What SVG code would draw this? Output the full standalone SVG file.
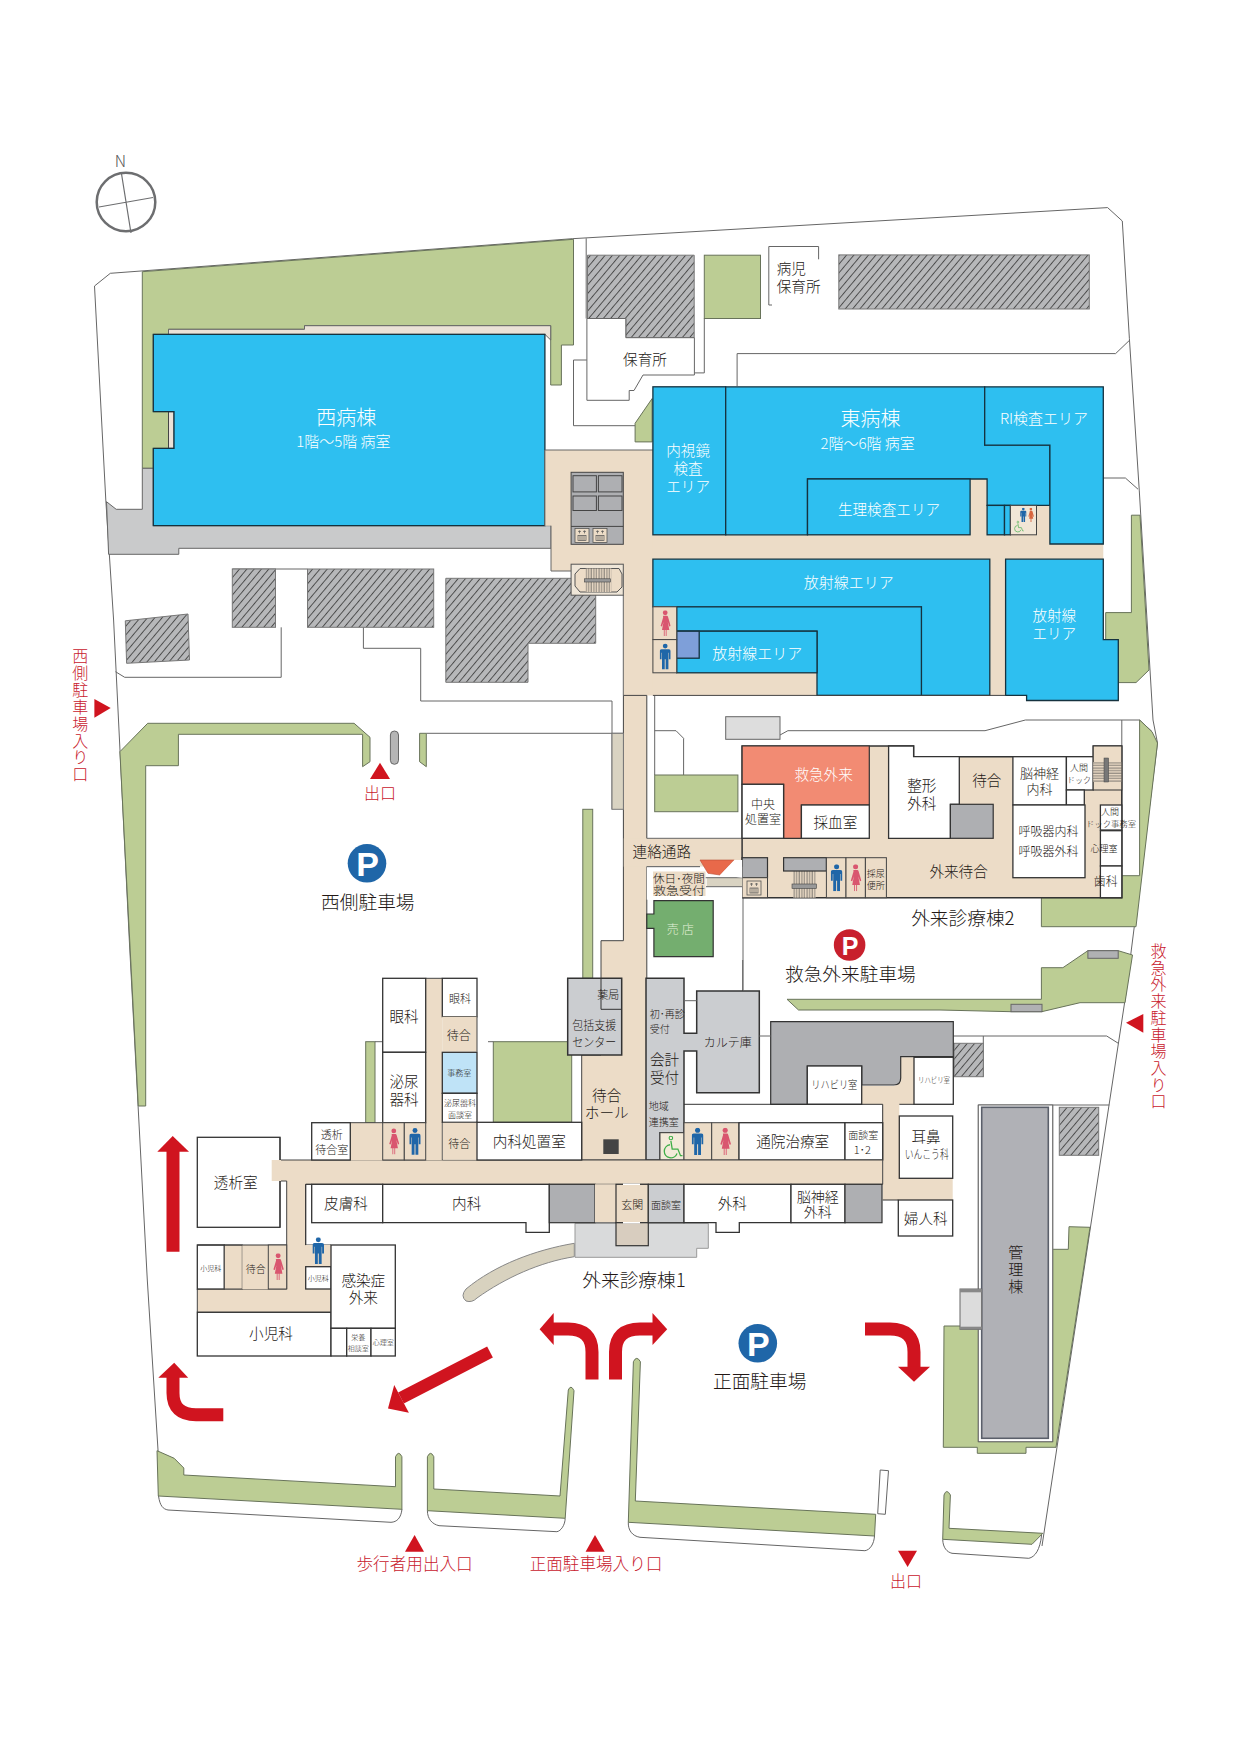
<svg xmlns="http://www.w3.org/2000/svg" width="1240" height="1754" viewBox="0 0 1240 1754">
<style>
text{font-family:"Noto Sans CJK JP","Noto Sans",sans-serif;font-weight:300;fill:#231815;text-anchor:middle;dominant-baseline:central}
.l{text-anchor:start}
.wt{fill:#fff}
.rd{fill:#c8202d}
.v{writing-mode:vertical-rl;text-anchor:start}
.f7{font-size:7px}.f8{font-size:8px}.f9{font-size:9px}.f10{font-size:10px}.f11{font-size:11px}.f12{font-size:12px}.f13{font-size:13px}.f14{font-size:14px}.f145{font-size:14.6px}.f15{font-size:15px}.f16{font-size:16px}.f165{font-size:16.6px}.f187{font-size:18.7px}.f20{font-size:20px}
.ln{fill:none;stroke:#666;stroke-width:1}
.wl{fill:#fff;stroke:#666;stroke-width:1}
.gr{fill:#bccd94;stroke:#68735a;stroke-width:1}
.ha{fill:url(#hatch);stroke:#777;stroke-width:1}
.tan{fill:#ecdcc7;stroke:none}
.tb{fill:#ecdcc7;stroke:#444;stroke-width:1}
.bl{fill:#2ebff0;stroke:#15323f;stroke-width:1.3}
.wh{fill:#fff;stroke:#333;stroke-width:1.3}
.gy{fill:#aeafb2;stroke:#333;stroke-width:1.2}
.lg{fill:#cbcdd0;stroke:#333;stroke-width:1.5}
.ar{fill:#d0141f}
.as{fill:none;stroke:#d0141f;stroke-width:13}
.m{fill:#1f66a8}
.w{fill:#d9566f}
</style>
<defs>
<pattern id="hatch" patternUnits="userSpaceOnUse" width="5.6" height="5.6" patternTransform="rotate(40)"><rect width="5.6" height="5.6" fill="#b7b8ba"/><line x1="0.5" y1="0" x2="0.5" y2="5.6" stroke="#333" stroke-width="0.8"/></pattern>
<pattern id="rung" patternUnits="userSpaceOnUse" width="2.6" height="5"><rect width="2.6" height="5" fill="#ecdcc7"/><line x1="1" y1="0" x2="1" y2="5" stroke="#444" stroke-width="0.7"/></pattern>
<pattern id="rungh" patternUnits="userSpaceOnUse" width="5" height="2.6"><rect width="5" height="2.6" fill="#ecdcc7"/><line x1="0" y1="1" x2="5" y2="1" stroke="#444" stroke-width="0.7"/></pattern>
<symbol id="man" viewBox="0 0 12 28"><circle cx="6" cy="2.6" r="2.6"/><path d="M2 6h8q2 0 2 2v9h-2v-7h-.5v18h-3V17h-1v11h-3V10H2v7H0V8q0-2 2-2z"/></symbol>
<symbol id="woman" viewBox="0 0 12 28"><circle cx="6" cy="2.6" r="2.6"/><path d="M4.2 6h3.6q1 0 1.4 1.5L12 17l-1.5.5-1.7-5 1.7 9H7.5V28H6.6v-6.5H5.4V28h-.9v-6.5H2.500l1.700-9-1.700 5L1 17 3.800 7.500Q3.200 6 4.200 6z"/></symbol>
<symbol id="chair" viewBox="0 0 24 26"><circle cx="10.500" cy="2.300" r="2" fill="none" stroke="#3fae49" stroke-width="1.300"/><path d="M10.500 5.500 12 15H18.500L21.500 22.500H24M9.500 10A7.500 7.500 0 1 0 17.500 20" fill="none" stroke="#3fae49" stroke-width="1.500"/></symbol>
<symbol id="elev" viewBox="0 0 16 16"><rect x="1" y="1" width="14" height="14" fill="#ecdcc7" stroke="#555" stroke-width="0.800"/><path d="M4 4h3M9 4h3M5.500 3v3M10.500 3v3" stroke="#555" stroke-width="0.700" fill="none"/><rect x="4" y="8" width="8" height="5" fill="none" stroke="#555" stroke-width="0.700"/><path d="M6 8v5M8 8v5M10 8v5" stroke="#555" stroke-width="0.700"/></symbol>
</defs>

<g id="site">
<path class="ln" d="M94.500,286 110.300,273.300 572.400,238.700 1107.600,207.600 1122.300,221 1129.400,338.700 1139.300,490.900 1153,720 1157.500,743 1125,1000 1042,1546"/>
<path class="ln" d="M94.500,286 105.800,500 113.600,620 129.300,940 147.300,1280 158,1450 159.500,1496"/>
<path class="ln" d="M586.200,238.300V318.500M573.500,360V425.700H635.100M586.900,360H573.500M737.100,386V353.600H1115.600L1129.400,340.400M1102.500,478H1125.400L1138,489.200"/>
<path class="ln" d="M704.300,318.500V372.900H694.400"/>
<path class="ln" d="M232.400,569H307.300M115.500,671.700 124.700,677.300H281.200V627.300M363.400,627.300V648.300H420.700V701H612V809.300M426.300,733.300H623.400"/>
<path class="ln" d="M654.700,695.400V775M654.700,730.700H676L683.600,738.300V775M780,735 787.900,730.700H985L1025.400,720H1139.600L1152,731.700"/>
<path class="ln" d="M743,897.700V990M742.700,960V991"/>
<path class="ln" d="M953.300,1036H1106.700L1118.300,1043.300M983.300,1036V1076.700M978.300,1105V1441.700H1052.700V1105ZM1052.700,1105H1109.300"/>
<path class="ln" d="M1121.800,720V875.700"/>
<path class="ln" d="M158.500,1496C160,1506 163,1509 168,1510L391,1522.300C397,1522 401,1518 402,1509M427.400,1510.700C427.500,1519 432,1524 439,1525.700L556.900,1531.700C561,1531 565,1525 565.200,1518.300M628.300,1522.300C628,1530 632,1536 640,1537.300L864.900,1550.700C870,1550 874,1544 874.500,1536M942.700,1539.300C943,1548 947,1552 952,1553.300L1028.800,1558.300C1035,1557 1040,1550 1041.600,1535"/>
<path class="wl" d="M880.200,1470 888.500,1470.700 885.300,1514.300 877.700,1513.700Z"/>
</g>

<g id="green">
<path class="gr" d="M142.300,271.700 573.500,239.300V345H561.400V385H550.700V325.700H304.500V329.300H168.500V334.300H153.300V411.700H168.500V448.300H153.300V468.300H142.300Z"/>
<rect class="gr" x="704.300" y="255.200" width="56.200" height="63.300"/>
<path class="gr" d="M652.100,398.600 635.100,423.300V441.900H652.100Z"/>
<path class="gr" d="M1131.400,515.200H1140L1149,670 1136,682.600H1117.500V639.600H1105.700V612.600H1131.400Z"/>
<rect class="gr" x="654.700" y="775" width="83.200" height="36.700"/>
<path class="gr" d="M1139.600,720 1152,731.700 1157.500,743 1136,926.700H1041.400V897.700H1121.800V875.700H1139.600Z"/>
<path class="gr" d="M787,999.300H1041.400V967.700H1062.900L1087.900,950.700H1118.200L1132.500,955 1125,1002.700H1080L1041.700,1011.700H1011L940,1010H798.500Z"/>
<path class="gr" d="M147.700,723.300H354.100L370,737.300V761.700L362.600,766.700V734.300H178.400V765.700H145.700V1106H138.300L119.900,751.700Z"/>
<path class="gr" d="M419.600,733.300H426.300V766.700L419.600,761.700Z"/>
<rect class="gr" x="582.800" y="809.300" width="9.900" height="169"/>
<rect class="gr" x="365.700" y="1041.700" width="9.300" height="81"/>
<path class="ln" d="M375,1041.700H382.700"/>
<rect class="gr" x="493.300" y="1041.700" width="78.400" height="80.600"/>
<path class="ln" d="M488,1041.700H493.300"/>
<path class="gr" d="M1053.300,1249.300H1068.300L1069,1226.700 1090,1227.300 1056,1447.300H1026V1453.300H977.300V1447.300H943.300L944,1326H978.300V1441.700H1052.700V1249.300Z"/>
<path class="gr" d="M157,1450.700 174.200,1458.300 183.800,1468V1475L395.500,1486.700V1456.700Q398.700,1450 401.900,1456.700V1509.300L158.300,1496Z"/>
<path class="gr" d="M427.400,1456.700Q430.600,1450 433.800,1456.700V1489L560,1496 568.300,1390Q570.900,1384 574,1390.700L565.200,1518.300 427.400,1510.700Z"/>
<path class="gr" d="M633.400,1361.700Q636.600,1355 640.400,1361.700L635.300,1501 875.700,1514.300 874.500,1536 628.300,1522.300Z"/>
<path class="gr" d="M944,1495Q946.500,1488 950.400,1495L949,1528.300 1042.800,1533.300 1032,1544.300 942.700,1539.300Z"/>
</g>

<g id="hatched">
<rect class="ha" x="232.300" y="569" width="43.200" height="58.300"/>
<rect class="ha" x="307.500" y="569" width="126.200" height="58.300"/>
<path class="ha" d="M445.800,578.300H595.700V643.300H528V682.300H445.800Z"/>
<path class="ha" d="M125.300,620.800 188,614 189.500,660 126.600,663.300Z"/>
<path class="ha" d="M587.500,255.200H694.200V337.700H625.800V318.500H587.500Z"/>
<rect class="ha" x="838.800" y="254.900" width="250.500" height="54.100"/>
<rect class="ha" x="954" y="1043.300" width="29.300" height="33.400"/>
<rect class="ha" x="1059.300" y="1107.300" width="39.400" height="48"/>
</g>

<g id="nursery">
<path class="wl" d="M586.900,318.500H625.800V337.700H694.400V375H643L634,390.500H629.200V400.300H586.900Z"/>
<text class="f145" x="645" y="358">保育所</text>
<path class="ln" d="M818.600,259.300V246.500H768.800V305H772"/>
<text class="f145 l" x="776.700" y="267">病児</text>
<text class="f145 l" x="776.700" y="285">保育所</text>
</g>

<g id="west-ward">
<path d="M168.500,329.300H304.500V325.700H550.700V340L544.900,334.300H168.500Z" fill="#ebe2d8" stroke="#666"/>
<rect x="168.500" y="411.700" width="5.500" height="36.600" fill="#ebe2d8" stroke="#444"/>
<path d="M142.300,468.300H153.300V525.700H551V548.300H178.800V554.300H108.600L106.500,501.700 116.200,509.300H142.300Z" fill="#c9cacb" stroke="#666"/>
<path class="bl" d="M153.300,334.300H544.900V525.700H153.300V448.300H174V411.700H153.300Z"/>
<text class="wt f20" x="346.200" y="416.700">西病棟</text>
<text class="wt f15" x="343.400" y="440.700">1階～5階 病室</text>
</g>

<g id="north-core">
<path class="tb" d="M544.900,450H653V695.400H623.300V571H551V525.700H544.900Z" style="stroke:none"/>
<path class="ln" d="M544.900,450H653M544.900,450V525.700M551,525.700V571H571M623.300,595V695.400"/>
<rect x="571.100" y="472.300" width="52.200" height="72" fill="#aeafb2" stroke="#444"/>
<rect x="573" y="475.700" width="23.400" height="16.200" fill="#aeafb2" stroke="#444"/>
<rect x="598.400" y="475.700" width="23.600" height="16.200" fill="#aeafb2" stroke="#444"/>
<rect x="573" y="496" width="23.400" height="14.500" fill="#aeafb2" stroke="#444"/>
<rect x="598.400" y="496" width="23.600" height="14.500" fill="#aeafb2" stroke="#444"/>
<path d="M571.100,526.400H623.300" stroke="#444" fill="none"/>
<use href="#elev" x="574" y="527.400" width="16" height="16"/>
<use href="#elev" x="592" y="527.400" width="16" height="16"/>
<rect x="571.100" y="564.200" width="52.200" height="31" fill="#efe6d8" stroke="#555"/>
<path d="M580,568.500H619L622,574V587L617,592H580L575,586V574Z" fill="#ecdcc7" stroke="#555"/>
<rect x="585.700" y="568.500" width="25.700" height="23.500" fill="url(#rung)"/>
<rect x="584.500" y="578.800" width="26" height="3.200" fill="#999" stroke="#444" stroke-width=".6"/>
</g>

<g id="east-ward" transform="translate(.8 0)">
<rect class="tan" x="652.100" y="534.800" width="450.400" height="24.400"/>
<rect class="tan" x="969.300" y="479" width="17" height="56"/>
<rect class="tan" x="986.300" y="505.400" width="62.800" height="30"/>
<rect class="tan" x="989" y="559" width="15.800" height="136.400"/>
<rect class="tan" x="652.100" y="672.800" width="164.100" height="22.600"/>
<rect class="bl" x="652.100" y="386.800" width="72.800" height="148"/>
<path class="bl" d="M724.900,386.800H983.900V445.200H1049.100V505.400H986.300V479H806.700V534.800H724.900Z"/>
<path class="bl" d="M983.900,386.800H1102.500V544H1049.100V445.200H983.900Z"/>
<rect class="bl" x="806.700" y="479" width="162.600" height="55.800"/>
<rect class="bl" x="986.300" y="505.400" width="17.400" height="29.400"/>
<rect class="bl" x="1003.700" y="505.400" width="5.900" height="29.400"/>
<rect x="1009.600" y="505.400" width="26.100" height="29.400" fill="#f1e6d6" stroke="#444"/>
<use href="#man" class="m" x="1019" y="507.800" width="7" height="14.200"/>
<use href="#woman" x="1026.600" y="507.800" width="7" height="14.200" fill="#d8663f"/>
<use href="#chair" x="1012.500" y="520" width="10.500" height="13.500"/>
<path class="bl" d="M652.100,559.200H989V695.400H920.600V606.800H652.100Z"/>
<path class="bl" d="M675.900,606.800H920.600V695.400H816.200V631.200H675.900Z"/>
<rect class="bl" x="675.900" y="631.200" width="140.300" height="41.600"/>
<rect x="675.900" y="631.200" width="22.500" height="27" fill="#7e9fd9" stroke="#15323f" stroke-width="1.300"/>
<rect class="tb" x="652.100" y="606.800" width="23.800" height="32.800"/>
<rect class="tb" x="652.100" y="639.600" width="23.800" height="33.200"/>
<use href="#woman" class="w" x="658.900" y="610.200" width="11" height="26"/>
<use href="#man" class="m" x="658.900" y="643" width="11" height="27"/>
<path class="bl" d="M1004.800,559.200H1102.500V639.600H1117.500V700.500H1025.800V695.400H1004.800Z"/>
<path class="ln" d="M652.100,695.400H1004.800" style="stroke:#444"/>
<text class="wt f145" x="687.300" y="449.600">内視鏡</text>
<text class="wt f145" x="687.300" y="467">検査</text>
<text class="wt f145" x="687.300" y="485">エリア</text>
<text class="wt f20" x="869.600" y="417.900">東病棟</text>
<text class="wt f15" x="866.800" y="442.500">2階～6階 病室</text>
<text class="wt f15" x="1043.200" y="417.200">RI検査エリア</text>
<text class="wt f145" x="888.200" y="508.500">生理検査エリア</text>
<text class="wt f15" x="847.900" y="581.800">放射線エリア</text>
<text class="wt f15" x="756.500" y="652.100">放射線エリア</text>
<text class="wt f145" x="1053.500" y="614">放射線</text>
<text class="wt f145" x="1053.500" y="632.200">エリア</text>
</g>

<g id="spine">
<path class="tb" d="M623.400,695.400H646.800V1160H581.700V1055H601V940.700H623.400Z"/>
<rect x="612" y="733.300" width="11.400" height="76" fill="#d9d3c2" stroke="#777"/>
<rect class="tan" x="623.800" y="838.300" width="118.300" height="28.400"/>
<path class="ln" d="M646.800,838.300H742.100M646.800,866.700H700"/>
<text class="f145" x="661.800" y="850.700">連絡通路</text>
</g>

<g id="outpatient-2">
<rect class="ln" x="725.700" y="716.700" width="54.300" height="22.600" style="fill:#ddd"/>
<path d="M742.100,746H913.600V756.700H1093.200V746H1121.800V897.700H742.100Z" fill="#ecdcc7" stroke="#333" stroke-width="1.500"/>
<path d="M742.100,746H869.300V805H801.400V838.300H783.600V784.300H742.100Z" fill="#f28b73" stroke="#333" stroke-width="1.200"/>
<rect class="wh" x="742.100" y="784.300" width="41.500" height="54"/>
<rect class="wh" x="801.400" y="805" width="67.900" height="33.300"/>
<path class="wh" d="M888.600,746H913.600V756.700H959.300V804.300H950.400V838.300H888.600Z"/>
<rect class="gy" x="950.400" y="804.300" width="42.800" height="34"/>
<rect class="wh" x="1012.900" y="756.700" width="53.500" height="48.300"/>
<rect class="wh" x="1066.400" y="756.700" width="26.800" height="33.300"/>
<rect class="wh" x="1066.400" y="790" width="17.900" height="15"/>
<rect class="wh" x="1012.900" y="805" width="72.100" height="72.700"/>
<rect x="1093.200" y="746" width="28.600" height="44" fill="#ecdcc7" stroke="#333"/>
<rect x="1093.200" y="762" width="28" height="20" fill="url(#rungh)"/>
<rect x="1104" y="758" width="4.600" height="24" fill="#777" stroke="#444" stroke-width=".5"/>
<rect class="wh" x="1100.400" y="805" width="21.400" height="25"/>
<rect class="wh" x="1100.400" y="830.700" width="21.400" height="35.300"/>
<rect class="wh" x="1100.400" y="866" width="21.400" height="31.700"/>
<rect class="gy" x="742.100" y="857.700" width="25.400" height="20"/>
<rect class="tb" x="742.100" y="877.700" width="25.400" height="20"/>
<use href="#elev" x="746" y="880" width="16" height="16"/>
<rect x="793.200" y="871" width="22.500" height="26.700" fill="url(#rung)"/>
<rect class="gy" x="783.600" y="857.700" width="42.800" height="13.300"/>
<rect x="792" y="884" width="24.500" height="4.500" fill="#999" stroke="#444" stroke-width=".6"/>
<rect class="tb" x="826.400" y="857.700" width="19.600" height="40"/>
<rect class="tb" x="846" y="857.700" width="19.400" height="40"/>
<rect class="tb" x="865.400" y="857.700" width="21" height="40"/>
<use href="#man" class="m" x="830.700" y="864.300" width="11.800" height="27"/>
<use href="#woman" class="w" x="849.700" y="864.300" width="11.800" height="27"/>
<text class="wt f145" x="823.600" y="773.300">救急外来</text>
<text class="f12" x="762.900" y="803">中央</text>
<text class="f12" x="762.900" y="818.500">処置室</text>
<text class="f145" x="835.400" y="821">採血室</text>
<text class="f145" x="921.800" y="784">整形</text>
<text class="f145" x="921.800" y="802.300">外科</text>
<text class="f145" x="986.800" y="779.700">待合</text>
<text class="f13" x="1039.600" y="772">脳神経</text>
<text class="f13" x="1039.600" y="788.300">内科</text>
<text class="f9" x="1078.900" y="767.300">人間</text>
<text class="f8" x="1078.900" y="779">ドック</text>
<text class="f12" x="1048.600" y="830">呼吸器内科</text>
<text class="f12" x="1048.600" y="850">呼吸器外科</text>
<text class="f9" x="1110" y="811.700">人間</text>
<text class="f8" x="1111" y="823.300" textLength="50" lengthAdjust="spacingAndGlyphs">ドック事務室</text>
<text class="f9" x="1104" y="848.300">心理室</text>
<text class="f12" x="1105.700" y="880">歯科</text>
<text class="f145" x="958.600" y="870.700">外来待合</text>
<text class="f9" x="875.700" y="873.300">採尿</text>
<text class="f9" x="875.700" y="885">便所</text>
<text class="f187" x="962.900" y="916.300">外来診療棟2</text>
</g>

<g id="night-desk">
<rect x="646.800" y="866.700" width="95.300" height="33" fill="#fff"/>
<rect class="tan" x="653" y="871.500" width="52.500" height="24.500"/>
<rect x="706.700" y="877.700" width="35.400" height="9" fill="#d9d3c2"/>
<path d="M646.800,866.700H700M742.100,877.700H705.700M742.100,886.700H706" class="ln"/>
<path d="M700,860H734.300L720,875 708,873.300Z" fill="#e8694a" stroke="#b84d33" stroke-width=".6"/>
<path d="M734.300,860H742.100V877.700L720,875Z" fill="#fff"/>
<text class="f11" x="678.900" y="877.500" textLength="52" lengthAdjust="spacingAndGlyphs">休日･夜間</text>
<text class="f11" x="678.900" y="890" textLength="52" lengthAdjust="spacingAndGlyphs">救急受付</text>
</g>

<g id="shop">
<path d="M653.900,900.700H713.200V956.700H653.900V928.300H646.800V914H653.900Z" fill="#74ae6f" stroke="#333" stroke-width="1.200"/>
<text class="f12" x="681.800" y="928.300" style="fill:#e4f0d8;letter-spacing:3px">売店</text>
</g>

<g id="rehab">
<path class="tan" d="M861.700,1086H895L900.700,1078V1057.300H914V1104.300H899.300V1178.300H952.700V1200H882.700V1104.300H861.700Z"/>
<path class="gy" d="M770.700,1021.700H953.300V1056.700H900.700V1078Q900.700,1085 894,1085H861.700V1066H807.300V1104.300H770.700Z"/>
<rect class="wh" x="807.300" y="1066" width="54.400" height="38.300"/>
<rect class="wh" x="914" y="1057.300" width="39.300" height="47"/>
<path class="ln" d="M684,1104.300H882.700M882.700,1104.300V1160M899.300,1104.300H914" style="stroke:#333"/>
<text class="f11" x="834.300" y="1084.300" textLength="46" lengthAdjust="spacingAndGlyphs">リハビリ室</text>
<text class="f8" x="934" y="1079" textLength="32" lengthAdjust="spacingAndGlyphs">リハビリ室</text>
</g>

<g id="records">
<path class="lg" d="M646,978.300H684V1033.300H696.700V991H759.300V1092.700H696.700V1051H684V1132.700H660V1160H646Z"/>
<path class="ln" d="M684,1000.700H696.700M759.300,1036H770.700"/>
<text class="f10 l" x="649.700" y="1013.300">初･再診</text>
<text class="f10 l" x="649.700" y="1028.300">受付</text>
<text class="f145 l" x="650" y="1058">会計</text>
<text class="f145 l" x="650" y="1076.300">受付</text>
<text class="f10 l" x="648.700" y="1105.700">地域</text>
<text class="f10 l" x="648.700" y="1121">連携室</text>
<text class="f12" x="727.700" y="1041.700">カルテ庫</text>
</g>

<g id="clinic-north">
<rect class="tb" x="660" y="1132.700" width="24" height="27.300" style="fill:#f3ead9"/>
<use href="#chair" x="661.700" y="1135.700" width="21" height="23.300"/>
<rect class="tb" x="684" y="1122.700" width="27.700" height="37.300"/>
<rect class="tb" x="711.700" y="1122.700" width="27.300" height="37.300"/>
<use href="#man" class="m" x="691.700" y="1127.700" width="11.800" height="27.300"/>
<use href="#woman" class="w" x="719.300" y="1127.700" width="11.800" height="27.300"/>
<rect class="wh" x="739" y="1122.700" width="106" height="37.300"/>
<rect class="wh" x="845" y="1122.700" width="37.700" height="37.300"/>
<text class="f145" x="792.700" y="1140.700">通院治療室</text>
<text class="f10" x="863.300" y="1134">面談室</text>
<text class="f11" x="862.300" y="1149">1･2</text>
<rect class="wh" x="899.300" y="1116" width="53.400" height="62.300"/>
<rect class="wh" x="898.300" y="1200" width="54.400" height="36"/>
<text class="f145" x="926" y="1135">耳鼻</text>
<text class="f12" x="926.700" y="1153.300" textLength="44" lengthAdjust="spacingAndGlyphs">いんこう科</text>
<text class="f145" x="925.700" y="1217.300">婦人科</text>
</g>

<g id="clinic-west">
<path class="tb" d="M271.700,1160H882.700V1184.300H305.700V1245H331V1312.300H197.300V1289H286.700V1181H271.700Z"/>
<rect class="tan" x="350.300" y="1122.700" width="32.400" height="37.800"/>
<path class="ln" d="M350.300,1122.700H382.700" style="stroke:#444"/>
<rect class="tan" x="425.700" y="978.300" width="16.600" height="182"/>
<path d="M425.700,978.300H442.300M442.300,1122.300V1160" stroke="#444" fill="none"/>
<rect class="wh" x="197.300" y="1137.300" width="82.700" height="90"/>
<path class="tb" d="M271.700,1160H281V1181H271.700Z" style="stroke:none"/>
<path d="M280,1137.300V1160M280,1181V1227.300" stroke="#333" fill="none"/>
<text class="f145" x="235.700" y="1181.700">透析室</text>
<rect class="wh" x="311.700" y="1122.700" width="38.600" height="37.300"/>
<text class="f11" x="331.700" y="1134">透析</text>
<text class="f11" x="331.700" y="1149">待合室</text>
<rect class="wh" x="382.700" y="978.300" width="43" height="74"/>
<rect class="wh" x="382.700" y="1052.300" width="43" height="70.400"/>
<text class="f145" x="404" y="1015.700">眼科</text>
<text class="f145" x="404" y="1080">泌尿</text>
<text class="f145" x="404" y="1098.300">器科</text>
<rect class="tb" x="382.700" y="1122.700" width="21.600" height="37.300"/>
<rect class="tb" x="404.300" y="1122.700" width="21.400" height="37.300"/>
<use href="#woman" class="w" x="388.300" y="1127.700" width="11" height="27.300"/>
<use href="#man" class="m" x="409.300" y="1127.700" width="11.400" height="27.300"/>
<rect class="wh" x="442.300" y="978.300" width="34.700" height="38.400"/>
<rect class="tan" x="442.300" y="1016.700" width="34.700" height="35"/>
<path d="M477,1016.700V1051.700" stroke="#444" fill="none"/>
<rect x="442.300" y="1052.300" width="34.700" height="41" fill="#bfe3f7" stroke="#333" stroke-width="1.300"/>
<rect class="wh" x="442.300" y="1093.300" width="34.700" height="29"/>
<rect class="tan" x="442.800" y="1122.800" width="34" height="37"/>
<text class="f11" x="460" y="997.700">眼科</text>
<text class="f12" x="458.700" y="1034.300">待合</text>
<text class="f8" x="459.300" y="1072.700">事務室</text>
<text class="f8" x="460" y="1102.300">泌尿器科</text>
<text class="f8" x="460" y="1114">面談室</text>
<text class="f11" x="459.300" y="1143.300">待合</text>
<rect class="wh" x="477" y="1122.300" width="104.700" height="37.700"/>
<text class="f145" x="529.300" y="1140.700">内科処置室</text>
<path class="lg" d="M567.700,978.300H621.700V1055H567.700Z"/>
<path d="M601,978.300V1009.300H621.700" stroke="#333" fill="none"/>
<text class="f11" x="608.300" y="994.300">薬局</text>
<text class="f12" x="594.300" y="1024" textLength="44" lengthAdjust="spacingAndGlyphs">包括支援</text>
<text class="f12" x="594.300" y="1041" textLength="44" lengthAdjust="spacingAndGlyphs">センター</text>
<rect x="603.300" y="1139.300" width="15.400" height="14.700" fill="#444"/>
<text class="f145" x="606.700" y="1094">待合</text>
<text class="f145" x="606.700" y="1111.700">ホール</text>
</g>

<g id="canopy">
<path d="M574.300,1243.300C535,1250 495,1265 466,1289Q460,1296 466,1301Q472,1303 477,1298C505,1278 540,1262 574.300,1256.700Z" fill="#d8d2bf" stroke="#888"/>
<path d="M575,1223.300H708.300V1248.300H696.700V1257.300H575Z" fill="#d9dadb" stroke="#999"/>
</g>

<g id="clinic-south">
<rect class="wh" x="311.700" y="1184.300" width="71" height="38.400"/>
<path class="wh" d="M382.700,1184.300H549.300V1232.300H526V1222.700H382.700Z"/>
<rect class="gy" x="549.300" y="1184.300" width="45.700" height="38.400"/>
<rect class="tan" x="595" y="1184.300" width="21" height="38.400"/>
<path d="M595,1222.700H616" stroke="#666" fill="none"/>
<rect x="616" y="1184.300" width="32.300" height="38.400" fill="#ecdcc7" stroke="#333" stroke-width="1.200"/>
<rect x="616" y="1222.700" width="32.300" height="23" fill="#d8cdbf" stroke="#333" stroke-width="1.200"/>
<path d="M623,1184.300H640M623,1222.700H640" stroke="#fff" stroke-width="1.500" fill="none"/>
<rect class="lg" x="648.300" y="1184.300" width="35.700" height="38.400" style="stroke-width:1.200"/>
<path class="wh" d="M684,1184.300H791V1222.700H739.300V1232.300H716V1222.700H684Z"/>
<rect class="wh" x="791" y="1184.300" width="54" height="38.400"/>
<rect class="gy" x="845" y="1184.300" width="37" height="38.400"/>
<path d="M305.700,1184.300H311.700" stroke="#333" fill="none"/>
<path d="M305.700,1184.300V1245M882.700,1200H898.300" stroke="#333" fill="none"/>
<text class="f145" x="346" y="1202.300">皮膚科</text>
<text class="f145" x="466.700" y="1202.300">内科</text>
<text class="f11" x="632.300" y="1204">玄関</text>
<text class="f10" x="666" y="1204.500">面談室</text>
<text class="f145" x="732.300" y="1202.300">外科</text>
<text class="f14" x="817.700" y="1195.500">脳神経</text>
<text class="f14" x="817.700" y="1210.700">外科</text>
<text class="f187" x="634" y="1278">外来診療棟1</text>
</g>

<g id="pediatrics">
<rect class="wh" x="197.300" y="1245" width="27" height="44"/>
<rect class="tb" x="224.300" y="1245" width="18" height="44"/>
<rect class="tan" x="242.300" y="1245" width="26" height="44"/>
<path d="M197.300,1245H286.700" stroke="#333" fill="none"/>
<rect class="tb" x="268.300" y="1245" width="18.400" height="44"/>
<use href="#woman" class="w" x="272.300" y="1253.300" width="11.700" height="26.700"/>
<text class="f7" x="210.700" y="1268.300">小児科</text>
<text class="f10" x="255.700" y="1268.300">待合</text>
<rect class="tan" x="305.700" y="1245" width="25.300" height="21.700"/>
<use href="#man" class="m" x="312.300" y="1237.300" width="12" height="26.700"/>
<rect class="wh" x="305.700" y="1266.700" width="25.300" height="22.300"/>
<text class="f7" x="318.300" y="1277.700">小児科</text>
<rect class="wh" x="197.300" y="1312.300" width="133.700" height="43.700"/>
<text class="f145" x="271" y="1332.300">小児科</text>
<rect class="wh" x="331" y="1245" width="64.300" height="83.300"/>
<text class="f145" x="363.300" y="1279">感染症</text>
<text class="f145" x="363.300" y="1296.700">外来</text>
<rect class="wh" x="331" y="1328.300" width="15.700" height="27.700"/>
<rect class="wh" x="346.700" y="1328.300" width="24.300" height="27.700"/>
<rect class="wh" x="371" y="1328.300" width="24.300" height="27.700"/>
<text class="f7" x="358.300" y="1336.700">栄養</text>
<text class="f7" x="358.300" y="1348.300">相談室</text>
<text class="f7" x="383.300" y="1342.300">心理室</text>
</g>

<g id="admin">
<rect class="wl" x="978.300" y="1105" width="74.400" height="336.700"/>
<rect x="981.700" y="1107.300" width="66.600" height="331" fill="#b0b1b6" stroke="#5a5f6a" stroke-width="1.600"/>
<rect x="960" y="1289" width="21.700" height="40.300" fill="#dcdcdc" stroke="#666"/>
<rect x="960" y="1289" width="21.700" height="3.300" fill="#888"/>
<rect x="960" y="1326.700" width="21.700" height="2.600" fill="#888"/>
<text class="f15 v" x="1015.700" y="1245" style="letter-spacing:1.700px">管理棟</text>
</g>

<g id="misc">
<rect x="1087.900" y="950.700" width="30.300" height="7.600" fill="#b0b1b3" stroke="#666"/>
<rect x="1011" y="1004.300" width="31" height="7.400" fill="#b0b1b3" stroke="#666"/>
<rect x="390.400" y="731" width="8.100" height="33.300" rx="4" fill="#b5b5b5" stroke="#666"/>
</g>

<g id="compass" fill="none" stroke="#6d6e70">
<circle cx="126" cy="202" r="29.300" stroke-width="2.500"/>
<path d="M121.300,172.500 131,233M99,207 153,197.500" stroke-width="1.200"/>
<text class="f16" x="120.300" y="160" style="fill:#555;stroke:none">N</text>
</g>

<g id="parking-labels">
<circle cx="367" cy="863.300" r="19.300" fill="#1f66a8"/>
<text x="367.500" y="864" font-size="34" style="font-family:'Liberation Sans',sans-serif;fill:#fff;font-weight:700">P</text>
<circle cx="849.600" cy="945" r="15.800" fill="#c8202d"/>
<text x="850" y="945.500" font-size="25" style="font-family:'Liberation Sans',sans-serif;fill:#fff;font-weight:700">P</text>
<circle cx="757.800" cy="1343.300" r="19.300" fill="#1f66a8"/>
<text x="758.300" y="1344" font-size="34" style="font-family:'Liberation Sans',sans-serif;fill:#fff;font-weight:700">P</text>
<text class="f187" x="367.800" y="900.700">西側駐車場</text>
<text class="f187" x="850.400" y="972">救急外来駐車場</text>
<text class="f187" x="759.700" y="1379.700">正面駐車場</text>
</g>

<g id="connectors">
<path class="as" d="M173,1251.700V1151"/><path class="ar" d="M172.700,1136 189,1151.700H157.300Z"/>
<path class="as" d="M223.300,1414.700H196Q173,1414.700 173,1393V1377"/><path class="ar" d="M174.200,1362.700 188.200,1377.700H158.300Z"/>
<path class="as" d="M490,1352 401,1398" style="stroke-width:12.500"/><path class="ar" d="M388,1408.500 394.200,1385 408.900,1412.700Z"/>
<path class="as" d="M592,1379.500V1352Q592,1329 568,1329H553"/><path class="ar" d="M539.600,1329.300 553.700,1313V1345Z"/>
<path class="as" d="M615.500,1379.500V1352Q615.500,1329 640,1329H653"/><path class="ar" d="M667.200,1329.300 652.500,1313V1345Z"/>
<path class="as" d="M865,1329H890Q914,1329 914,1352V1367"/><path class="ar" d="M914,1381.700 898,1366.700H930Z"/>
<path class="ar" d="M414.600,1535 424,1551.700H405Z"/>
<path class="ar" d="M595,1535 604.700,1551.700H585.600Z"/>
<path class="ar" d="M907.600,1567 898,1550.700H917Z"/>
<path class="ar" d="M380,762.700 390,779H370Z"/>
<path class="ar" d="M94.400,699 110.700,708 94.400,717.700Z"/>
<path class="ar" d="M1126,1022.700 1143.300,1014V1032.700Z"/>
</g>

<g id="entrances">
<text class="rd f165" x="414.600" y="1563">歩行者用出入口</text>
<text class="rd f165" x="596" y="1563">正面駐車場入り口</text>
<text class="rd f16" x="906" y="1580">出口</text>
<text class="rd f16" x="380" y="792">出口</text>
<text class="rd f16 v" x="80.300" y="648" style="letter-spacing:.9px">西側駐車場入り口</text>
<text class="rd f16 v" x="1158.600" y="943" style="letter-spacing:.7px">救急外来駐車場入り口</text>
</g>
</svg>
